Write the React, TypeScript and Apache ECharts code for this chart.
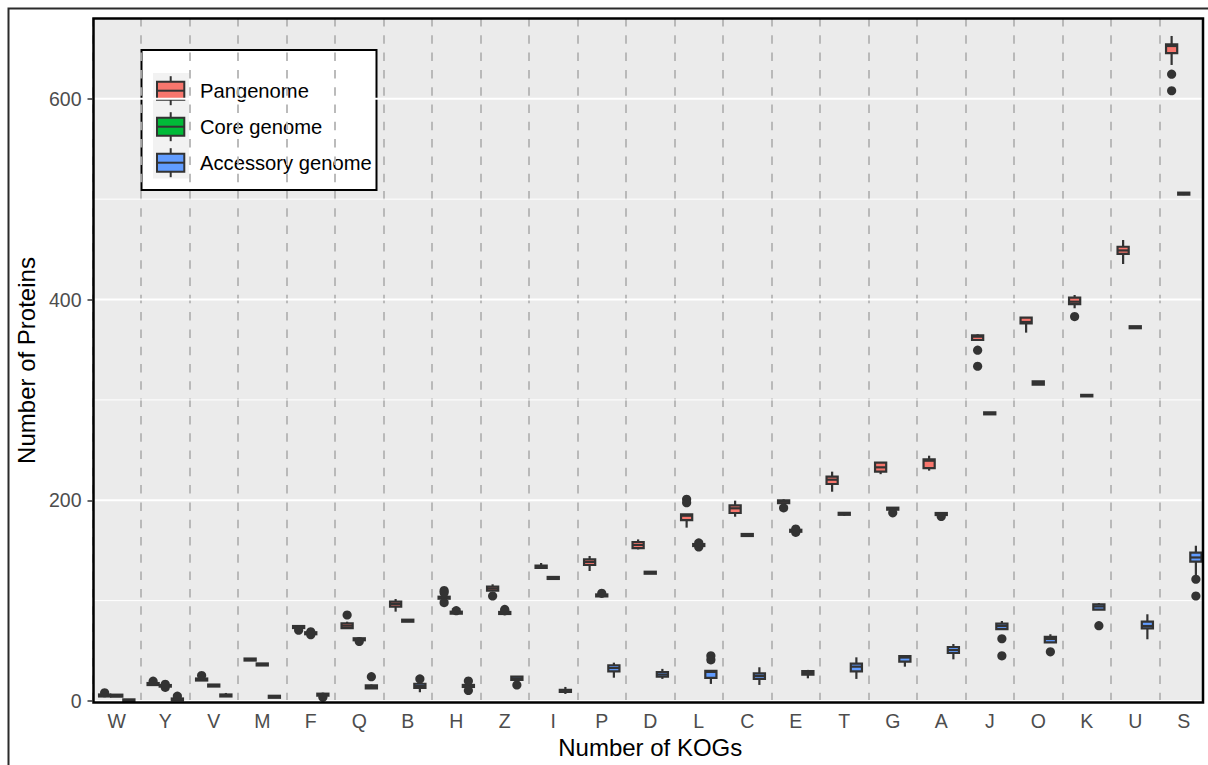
import React, { useEffect, useRef } from "react";
import * as echarts from "echarts";

const categories = ["W", "Y", "V", "M", "F", "Q", "B", "H", "Z", "I", "P", "D", "L", "C", "E", "T", "G", "A", "J", "O", "K", "U", "S"];
const groupNames = ["Pangenome", "Core genome", "Accessory genome"];
const groupColors = ["#F8766D", "#00BA38", "#619CFF"];

// [lower whisker, Q1, median, Q3, upper whisker]
const panStats = [
  [4.5, 4.5, 5.5, 6.5, 6.5],
  [15.9, 15.9, 16.9, 17.9, 17.9],
  [20.4, 20.4, 21.4, 22.4, 22.4],
  [40.3, 40.3, 41.3, 42.3, 42.3],
  [72.7, 72.7, 73.7, 74.7, 74.7],
  [72.7, 72.7, 75, 77.4, 79],
  [89, 94, 96.6, 99, 101.6],
  [101.9, 101.9, 102.9, 103.9, 103.9],
  [109.9, 109.9, 112, 113.9, 116.3],
  [131.5, 132.5, 133.5, 135, 137.5],
  [129.5, 135.5, 138.5, 141.2, 144.5],
  [151, 152.4, 155.5, 158.4, 161],
  [172.7, 180.3, 184.6, 186, 186],
  [183.6, 187.3, 192, 195, 199.6],
  [197, 197, 198.5, 200, 201],
  [208.5, 216.2, 220.5, 223.5, 228.5],
  [226, 228.5, 232.8, 237.4, 237.4],
  [229.5, 232.1, 239.4, 240.8, 244.4],
  [359.7, 359.7, 363, 364.4, 365.5],
  [367, 376.3, 377.6, 381.9, 381.9],
  [391.3, 395.5, 397.8, 401.8, 404.5],
  [435.4, 445.4, 448.9, 452.6, 459.3],
  [633.7, 645.6, 652.6, 654.3, 662.6],
];
const panOutliers = [
  [8.2], [19.7], [25.4], [], [70.5], [85.7], [], [110, 108, 98], [104.6], [], [], [], [201, 197.5],
  [], [192.4], [], [], [], [349.5, 333.5], [], [383], [], [624.5, 608],
];

const coreStats = [
  [4.3, 4.3, 5.3, 6.3, 6.3],
  [14.3, 14.3, 15.1, 15.9, 15.9],
  [14.4, 14.4, 15.4, 16.4, 16.4],
  [35.4, 35.4, 36.4, 37.4, 37.4],
  [66.5, 66.5, 67.5, 68.5, 68.5],
  [60.5, 60.5, 61.5, 62.5, 62.5],
  [79, 79, 80, 81, 81],
  [87, 87, 88, 89, 89],
  [86.7, 86.7, 87.7, 88.7, 88.7],
  [121.6, 121.6, 122.6, 123.6, 123.6],
  [104.2, 104.2, 105.2, 106.2, 106.2],
  [126.8, 126.8, 127.8, 128.8, 128.8],
  [154.4, 154.4, 155.4, 156.4, 156.4],
  [164.4, 164.4, 165.4, 166.4, 166.4],
  [168.6, 168.6, 169.6, 170.6, 170.6],
  [184.5, 185.5, 186.5, 187.5, 187.5],
  [190.6, 190.6, 191.6, 192.6, 192.6],
  [185.3, 185.3, 186.3, 187.3, 187.3],
  [285.6, 285.6, 286.6, 287.6, 287.6],
  [315.2, 315.2, 316.8, 318.4, 318.4],
  [303.5, 303.5, 304.2, 305, 305],
  [371.4, 371.4, 372.4, 373.4, 373.4],
  [504, 504.5, 505.5, 506.5, 507],
];
const coreOutliers = [
  [], [13.6, 16.6], [], [], [66, 69], [59.3], [], [90], [91.2, 89.8], [], [107.3], [], [153.5, 157.5],
  [], [168, 171.3], [], [187.5], [183.8], [], [], [], [], [],
];

const accStats = [
  [0, 0, 0.8, 1.6, 1.6],
  [0.5, 0.5, 1.5, 2.5, 2.5],
  [4.5, 4.5, 5.5, 6.5, 8],
  [3.2, 3.2, 4.2, 5.2, 5.2],
  [5.3, 5.3, 6.3, 7.3, 7.3],
  [12.5, 12.5, 14, 15.5, 16.5],
  [8.7, 13, 15, 17.2, 17.2],
  [14, 14, 15, 16, 16],
  [20.9, 20.9, 22.5, 24.2, 24.8],
  [7, 9, 10, 11.2, 14],
  [23.2, 29.6, 32.9, 35.6, 38.2],
  [22, 24.2, 26.4, 28.9, 32],
  [17, 23, 29, 30, 30],
  [16, 22, 25, 27.6, 33.6],
  [22.6, 26.2, 28, 29.9, 31],
  [22, 29.6, 34.2, 37.2, 43.5],
  [34.2, 39.2, 43.3, 44.8, 44.8],
  [41.5, 47.8, 50.8, 53.8, 56.8],
  [71.7, 71.7, 74.7, 77, 79.7],
  [58.5, 58.5, 61.8, 63.8, 66.5],
  [91, 91, 94.2, 96.3, 97.6],
  [61.5, 72.4, 74.7, 79, 86.4],
  [123.8, 138.8, 143, 147.8, 154.7],
];
const accOutliers = [
  [], [4.8], [], [], [3.8], [24.2], [22], [19.9, 10.5], [16], [], [], [], [45, 41],
  [], [], [], [], [], [62, 45], [49], [75], [], [121.3, 104.6],
];

const yTickValues = [0, 200, 400, 600];
const majorGridValues = [0, 200, 400, 600];
const minorGridValues = [100, 300, 500];

const FONT = '"Liberation Sans", Arial, Helvetica, sans-serif';
const INK = "#333333";
const STROKE = 2.2;

function boxSeries(name: string, stats: number[][], color: string, shift: number) {
  return {
    type: "custom",
    name,
    z: 3,
    clip: true,
    data: stats.map((s, i) => [i, ...s]),
    encode: { x: 0, y: [1, 2, 3, 4, 5] },
    renderItem: (params: any, api: any) => {
      const idx = api.value(0);
      const bw = api.size([1, 0])[0];
      const w = bw * 0.23;
      const cx = api.coord([idx, api.value(3)])[0] + shift * bw;
      const yLo = api.coord([idx, api.value(1)])[1];
      const yQ1 = api.coord([idx, api.value(2)])[1];
      const yMed = api.coord([idx, api.value(3)])[1];
      const yQ3 = api.coord([idx, api.value(4)])[1];
      const yHi = api.coord([idx, api.value(5)])[1];
      const ls = { stroke: INK, lineWidth: STROKE };
      return {
        type: "group",
        children: [
          { type: "line", shape: { x1: cx, y1: yHi, x2: cx, y2: yQ3 }, style: ls },
          { type: "line", shape: { x1: cx, y1: yQ1, x2: cx, y2: yLo }, style: ls },
          { type: "rect", shape: { x: cx - w / 2, y: yQ3, width: w, height: yQ1 - yQ3 }, style: { fill: color, stroke: INK, lineWidth: STROKE } },
          { type: "line", shape: { x1: cx - w / 2, y1: yMed, x2: cx + w / 2, y2: yMed }, style: ls },
        ],
      };
    },
  };
}

function outlierSeries(name: string, outliers: number[][], shift: number) {
  const data: number[][] = [];
  outliers.forEach((list, i) => list.forEach((v) => data.push([i, v])));
  return {
    type: "custom",
    name,
    z: 4,
    data,
    encode: { x: 0, y: 1 },
    renderItem: (params: any, api: any) => {
      const idx = api.value(0);
      const bw = api.size([1, 0])[0];
      const p = api.coord([idx, api.value(1)]);
      return { type: "circle", shape: { cx: p[0] + shift * bw, cy: p[1], r: 4.6 }, style: { fill: INK } };
    },
  };
}

function gridSeries() {
  const data = [
    ...majorGridValues.map((v) => [0, v, 2]),
    ...minorGridValues.map((v) => [0, v, 1]),
  ];
  return {
    type: "custom",
    name: "grid",
    z: 1,
    silent: true,
    data,
    encode: { x: 0, y: 1 },
    renderItem: (params: any, api: any) => {
      const cs = params.coordSys;
      const y = api.coord([0, api.value(1)])[1];
      return {
        type: "line",
        shape: { x1: cs.x, y1: y, x2: cs.x + cs.width, y2: y },
        style: { stroke: "#ffffff", lineWidth: api.value(2) },
      };
    },
  };
}

export default function App() {
  const ref = useRef<HTMLDivElement>(null);
  useEffect(() => {
    if (!ref.current) return;
    const chart = echarts.init(ref.current, null, { renderer: "svg" });
    const shifts = [-0.25, 0, 0.25];
    const legendChildren: any[] = [
      { type: "rect", shape: { x: 141.5, y: 50, width: 235, height: 140 }, style: { fill: "#ffffff", stroke: "#000000", lineWidth: 2 } },
      { type: "rect", shape: { x: 153, y: 73, width: 36, height: 105.5 }, style: { fill: "#F2F2F2" } },
    ];
    groupNames.forEach((name, k) => {
      const cy = 90.7 + 36 * k;
      legendChildren.push(
        { type: "line", shape: { x1: 170.7, y1: cy - 14.5, x2: 170.7, y2: cy + 14.5 }, style: { stroke: INK, lineWidth: 2 } },
        { type: "rect", shape: { x: 157, y: cy - 9, width: 27.3, height: 18 }, style: { fill: groupColors[k], stroke: INK, lineWidth: 2 } },
        { type: "line", shape: { x1: 157, y1: cy, x2: 184.3, y2: cy }, style: { stroke: INK, lineWidth: 2 } },
        { type: "text", style: { text: name, x: 200, y: cy, fill: "#000000", fontSize: 20.2, fontFamily: FONT, verticalAlign: "middle" } }
      );
    });

    const option: any = {
      animation: false,
      backgroundColor: "#ffffff",
      textStyle: { fontFamily: FONT },
      grid: {
        left: 92.5,
        top: 18,
        width: 1116.2,
        height: 685,
        show: true,
        backgroundColor: "#EBEBEB",
        borderWidth: 0,
        containLabel: false,
      },
      xAxis: {
        type: "category",
        data: categories,
        boundaryGap: true,
        name: "Number of KOGs",
        nameLocation: "middle",
        nameGap: 30,
        nameTextStyle: { fontSize: 24, color: "#000000", fontFamily: FONT },
        axisLine: { show: false },
        axisTick: { show: false },
        axisLabel: { color: "#4D4D4D", fontSize: 19.5, margin: 8, interval: 0, fontFamily: FONT },
        splitLine: { show: true, interval: 0, lineStyle: { color: "#B4B4B4", width: 1.8, type: [8.5, 8.8] } },
      },
      yAxis: {
        type: "value",
        min: -2,
        max: 680.5,
        name: "Number of Proteins",
        nameLocation: "middle",
        nameGap: 42,
        nameTextStyle: { fontSize: 24, color: "#000000", fontFamily: FONT },
        axisLine: { show: false },
        axisTick: { show: true, length: 5, customValues: yTickValues, lineStyle: { color: INK, width: 1.5 } },
        axisLabel: { color: "#4D4D4D", fontSize: 19.5, margin: 11, customValues: yTickValues, fontFamily: FONT },
        splitLine: { show: false },
        minorSplitLine: { show: false },
      },
      series: [
        gridSeries(),
        boxSeries(groupNames[0], panStats, groupColors[0], shifts[0]),
        boxSeries(groupNames[1], coreStats, groupColors[1], shifts[1]),
        boxSeries(groupNames[2], accStats, groupColors[2], shifts[2]),
        outlierSeries(groupNames[0] + " outliers", panOutliers, shifts[0]),
        outlierSeries(groupNames[1] + " outliers", coreOutliers, shifts[1]),
        outlierSeries(groupNames[2] + " outliers", accOutliers, shifts[2]),
      ],
      graphic: [
        { type: "rect", z: 100, silent: true, shape: { x: 1204.2, y: 12, width: 10, height: 700 }, style: { fill: "#ffffff" } },
        { type: "rect", z: 101, silent: true, shape: { x: 93.5, y: 18.5, width: 1109.5, height: 684 }, style: { fill: "none", stroke: "#000000", lineWidth: 2.5 } },
        { type: "polyline", z: 101, silent: true, shape: { points: [[8.5, 765], [8.5, 8.5], [1208, 8.5]] }, style: { fill: "none", stroke: "#2b2b2b", lineWidth: 2 } },
        { type: "group", z: 102, silent: true, children: legendChildren },
      ],
    };
    chart.setOption(option);
    return () => chart.dispose();
  }, []);
  return <div ref={ref} style={{ position: "fixed", left: 0, top: 0, width: 1208, height: 765, background: "#ffffff" }} />;
}
